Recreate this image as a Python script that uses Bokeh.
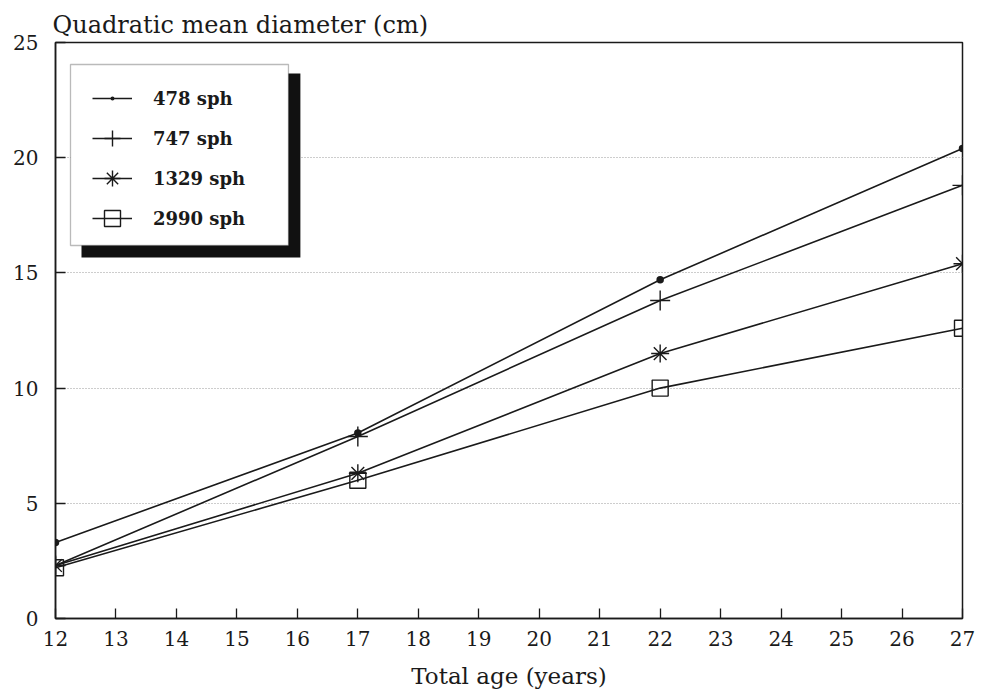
from bokeh.plotting import figure
from bokeh.models import Range1d, FixedTicker, Legend, LegendItem, BoxAnnotation
from bokeh.embed import file_html
from bokeh.resources import INLINE

age = [12, 17, 22, 27]
d478 = [3.3, 8.05, 14.7, 20.4]
d747 = [2.3, 7.9, 13.8, 18.8]
d1329 = [2.3, 6.3, 11.5, 15.4]
d2990 = [2.2, 6.0, 10.0, 12.6]
series_labels = ["478 sph", "747 sph", "1329 sph", "2990 sph"]
x_ticks = list(range(12, 28))
y_ticks = [0, 5, 10, 15, 20, 25]

FONT = "DejaVu Serif"
INK = "#1a1a1a"

p = figure(width=984, height=694, output_backend="svg", toolbar_location=None,
           x_range=Range1d(12, 27), y_range=Range1d(0, 25),
           min_border_left=55, min_border_right=22, min_border_top=42, min_border_bottom=76)
p.background_fill_color = "white"
p.border_fill_color = "white"
p.outline_line_color = INK
p.outline_line_width = 1.5

p.title.text = "Quadratic mean diameter (cm)"
p.title.text_font = FONT
p.title.text_font_size = "24px"
p.title.text_font_style = "normal"
p.title.text_color = INK
p.title.align = "left"
p.title.offset = -3
p.title.standoff = 7

for ax in (p.xaxis[0], p.yaxis[0]):
    ax.axis_line_color = INK
    ax.axis_line_width = 1.5
    ax.major_tick_in = 10
    ax.major_tick_out = 0
    ax.major_tick_line_color = INK
    ax.major_tick_line_width = 1.3
    ax.minor_tick_line_color = None
    ax.major_label_text_font = FONT
    ax.major_label_text_font_size = "20px"
    ax.major_label_text_color = INK

p.xaxis[0].ticker = FixedTicker(ticks=x_ticks)
p.yaxis[0].ticker = FixedTicker(ticks=y_ticks)
p.xaxis[0].major_label_standoff = 12
p.yaxis[0].major_label_standoff = 17
p.xaxis[0].axis_label = "Total age (years)"
p.xaxis[0].axis_label_text_font = FONT
p.xaxis[0].axis_label_text_font_size = "23px"
p.xaxis[0].axis_label_text_font_style = "normal"
p.xaxis[0].axis_label_text_color = INK
p.xaxis[0].axis_label_standoff = 14

p.xgrid.grid_line_color = None
p.ygrid.ticker = FixedTicker(ticks=[5, 10, 15, 20])
p.ygrid.grid_line_color = "#9a9a9a"
p.ygrid.grid_line_dash = "1 2"
p.ygrid.grid_line_width = 1

lw = 1.6
r1l = p.line(age, d478, line_color=INK, line_width=lw)
r1m = p.scatter(age, d478, marker="dot", size=30, line_color=INK, fill_color=INK)
r2l = p.line(age, d747, line_color=INK, line_width=lw)
r2m = p.scatter(age, d747, marker="cross", size=20, line_color=INK, line_width=1.4)
r3l = p.line(age, d1329, line_color=INK, line_width=lw)
r3m = p.scatter(age, d1329, marker="asterisk", size=18, line_color=INK, line_width=1.4)
r4l = p.line(age, d2990, line_color=INK, line_width=lw)
r4m = p.scatter(age, d2990, marker="square", size=16, line_color=INK, line_width=1.4,
                fill_alpha=0)

# legend frame with drop shadow
shadow = BoxAnnotation(left=12.43, right=16.05, top=23.655, bottom=15.67,
                       fill_color="#111111", fill_alpha=1, line_alpha=0)
box = BoxAnnotation(left=12.248, right=15.853, top=24.045, bottom=16.19,
                    fill_color="white", fill_alpha=1, line_color=INK, line_width=1.3)
p.add_layout(shadow)
p.add_layout(box)

items = [LegendItem(label=series_labels[0], renderers=[r1l, r1m]),
         LegendItem(label=series_labels[1], renderers=[r2l, r2m]),
         LegendItem(label=series_labels[2], renderers=[r3l, r3m]),
         LegendItem(label=series_labels[3], renderers=[r4l, r4m])]
legend = Legend(items=items, location=(37, 380), padding=0, margin=0,
                glyph_width=40, glyph_height=40, spacing=0, label_standoff=21,
                label_text_font=FONT, label_text_font_size="18px",
                label_text_font_style="bold", label_text_color=INK,
                background_fill_alpha=0, border_line_alpha=0)
p.add_layout(legend)

open("out.html", "w").write(file_html(p, INLINE))
